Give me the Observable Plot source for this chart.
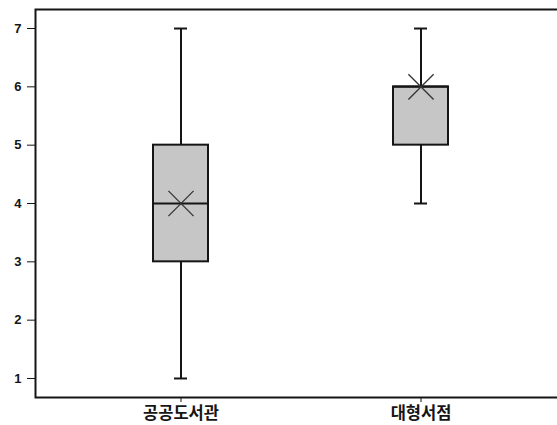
<!DOCTYPE html>
<html>
<head>
<meta charset="utf-8">
<script src="https://cdn.jsdelivr.net/npm/d3@7"></script>
<script src="https://cdn.jsdelivr.net/npm/@observablehq/plot@0.6"></script>
<style>
  html, body { margin: 0; padding: 0; background: #fff; overflow: hidden; }
  #chart svg { overflow: hidden; }
</style>
</head>
<body>
<div id="chart"></div>
<script>
const categories = ["공공도서관", "대형서점"];
const minValues = [1, 4];
const q1Values = [3, 5];
const medianValues = [4, 6];
const q3Values = [5, 6];
const maxValues = [7, 7];
const meanValues = [4, 6];
const yTicks = [1, 2, 3, 4, 5, 6, 7];

const data = categories.map((c, i) => ({
  cat: c, min: minValues[i], q1: q1Values[i], median: medianValues[i],
  q3: q3Values[i], max: maxValues[i], mean: meanValues[i]
}));

const ink = "#151515";
const chart = Plot.plot({
  width: 557,
  height: 425,
  marginLeft: 35,
  marginRight: 0,
  marginTop: 9,
  marginBottom: 28,
  style: { background: "#fff", fontFamily: "Liberation Sans, Arial, sans-serif", overflow: "hidden" },
  x: { type: "band", domain: categories, range: [35, 566], paddingInner: 0.771, paddingOuter: 0.4917, label: null },
  y: { domain: [0.674, 7.326], label: null },
  marks: [
    Plot.ruleX(data, { x: "cat", y1: "min", y2: "max", stroke: ink, strokeWidth: 2 }),
    Plot.tickY(data, { x: "cat", y: "min", stroke: ink, strokeWidth: 2, insetLeft: 21, insetRight: 21 }),
    Plot.tickY(data, { x: "cat", y: "max", stroke: ink, strokeWidth: 2, insetLeft: 21, insetRight: 21 }),
    Plot.barY(data, { x: "cat", y1: "q1", y2: "q3", fill: "#c6c6c6", stroke: ink, strokeWidth: 2 }),
    Plot.tickY(data, { x: "cat", y: "median", stroke: ink, strokeWidth: 2 }),
    Plot.dot(data, { x: "cat", y: "mean", symbol: "times", r: 11.5, stroke: "#333", strokeWidth: 1.3 }),
    Plot.frame({ stroke: ink, strokeWidth: 2, insetRight: -30 }),
    Plot.axisY({ ticks: yTicks, tickFormat: d => String(d), tickSize: 8, tickPadding: 6, fontSize: 13, fontWeight: "bold", color: ink, label: null }),
    Plot.axisX({ tickSize: 5, tickPadding: 5, fontSize: 16.5, fontWeight: "bold", fontFamily: "Noto Sans CJK KR", color: ink, label: null })
  ]
});
document.getElementById("chart").appendChild(chart);
</script>
</body>
</html>
